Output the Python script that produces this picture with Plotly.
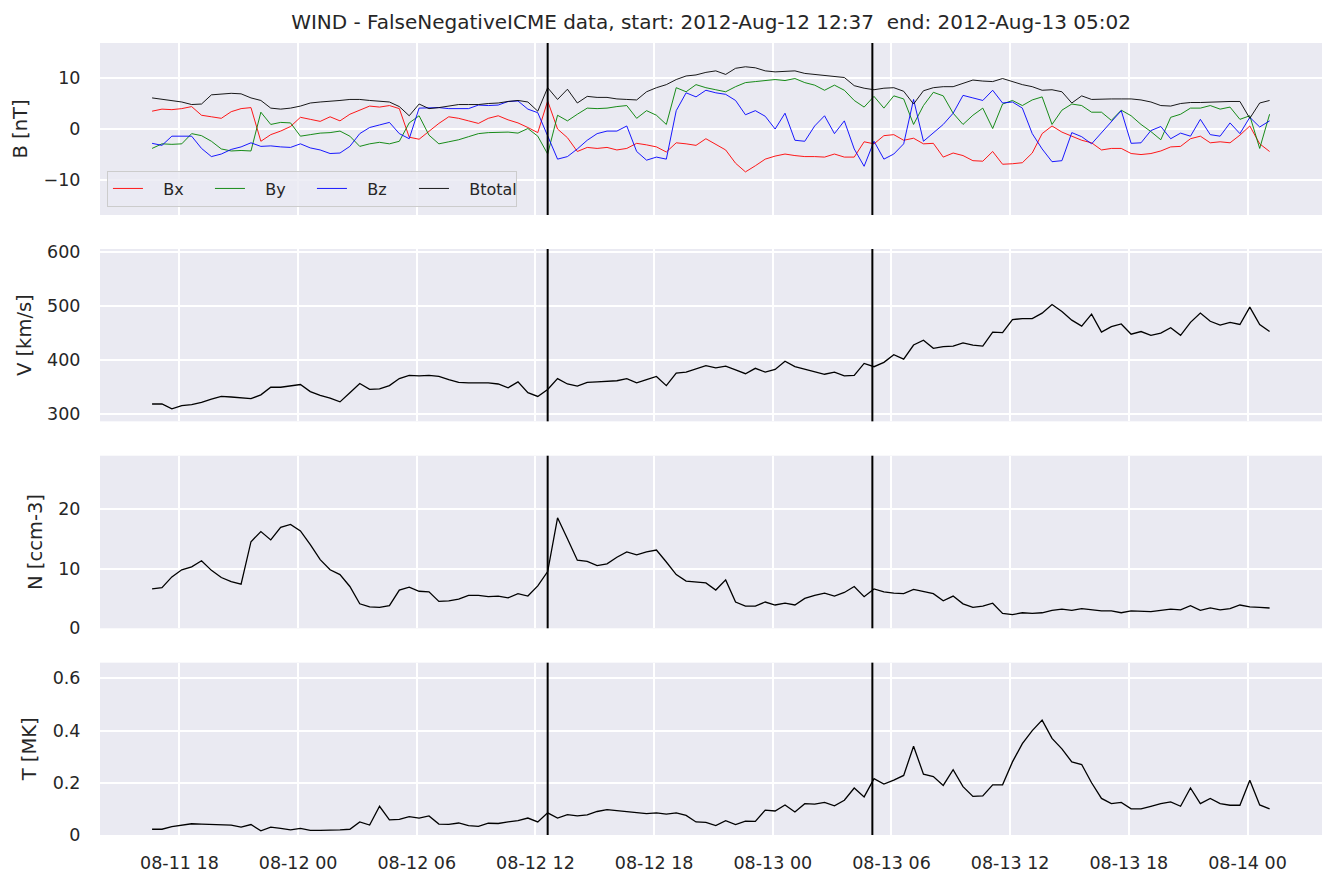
import pandas as pd
import plotly.graph_objects as go
from plotly.subplots import make_subplots

TITLE = "WIND - FalseNegativeICME data, start: 2012-Aug-12 12:37  end: 2012-Aug-13 05:02"
T_START = "2012-08-11 16:37"
N_POINTS = 114
ICME_START = "2012-08-12 12:37"
ICME_END = "2012-08-13 05:02"
X_RANGE = ["2012-08-11 13:59", "2012-08-14 03:46"]

time = pd.date_range(T_START, periods=N_POINTS, freq="30min")

bx = [3.4, 3.8, 3.7, 3.9, 4.3, 2.6, 2.3, 2.0, 3.3, 3.9,
      4.1, -2.5, -1.2, -0.5, 0.4, 2.2, 1.8, 1.4, 2.3, 1.5,
      2.8, 3.6, 4.4, 4.2, 4.5, 3.9, -1.7, -2.1, -0.6, 1.0,
      2.3, 2.0, 1.5, 1.0, 2.0, 2.5, 1.7, 1.1, 0.2, -0.8,
      5.4, -0.1, -1.8, -4.5, -3.7, -3.9, -3.7, -4.2, -3.9, -2.9,
      -3.2, -3.6, -4.6, -2.8, -3.0, -3.3, -2.0, -3.1, -4.2, -6.8,
      -8.5, -7.3, -6.0, -5.4, -5.0, -5.3, -5.5, -5.5, -5.6, -5.0,
      -5.6, -5.6, -2.6, -3.0, -1.4, -1.2, -2.3, -1.9, -3.0, -2.9,
      -5.6, -4.8, -5.3, -6.3, -6.4, -4.5, -7.0, -6.9, -6.7, -4.8,
      -1.0, 0.5, -0.7, -1.5, -2.3, -2.8, -4.2, -3.9, -3.9, -4.9,
      -5.1, -4.9, -4.4, -3.6, -3.5, -2.0, -1.5, -2.8, -2.6, -2.8,
      -1.3, 0.5, -3.0, -4.5]

by = [-3.9, -3.0, -3.1, -3.0, -1.0, -1.4, -2.5, -4.0, -4.4, -4.3,
      -4.4, 3.2, 0.8, 1.2, 1.1, -1.5, -1.2, -0.9, -0.8, -0.5,
      -1.5, -3.5, -3.0, -2.7, -3.0, -2.5, 1.1, 2.5, -1.3, -3.0,
      -2.6, -2.2, -1.6, -1.0, -0.8, -0.7, -0.7, -0.9, 0.0, -1.5,
      -5.0, 2.6, 1.5, 2.8, 4.0, 3.9, 4.0, 4.3, 4.5, 2.0,
      3.5, 2.6, 0.8, 8.0, 7.2, 8.6, 8.0, 7.6, 7.2, 8.2,
      9.0, 9.2, 9.4, 9.6, 9.4, 9.8, 9.0, 8.5, 7.5, 8.5,
      7.5, 5.5, 4.2, 6.3, 4.0, 6.4, 5.8, 0.8, 4.5, 7.1,
      6.4, 3.0, 0.8, 2.6, 4.0, 0.0, 4.8, 5.5, 4.5, 5.6,
      6.2, 0.8, 3.6, 4.8, 4.5, 3.2, 3.2, 1.6, 3.6, 2.5,
      0.8, -0.6, -2.2, 2.2, 2.8, 4.0, 4.0, 4.5, 3.8, 4.2,
      1.8, 2.5, -3.9, 2.8]

bz = [-2.9, -3.3, -1.5, -1.5, -1.5, -3.9, -5.5, -5.0, -4.1, -3.6,
      -2.8, -3.5, -3.4, -3.6, -3.7, -3.0, -3.8, -4.2, -4.9, -4.8,
      -3.5, -1.0, 0.2, 0.7, 1.2, -1.0, -2.0, 4.0, 4.0, 4.1,
      3.9, 3.9, 3.9, 4.6, 4.5, 4.6, 5.3, 5.4, 3.8, 3.1,
      -1.5, -6.0, -5.5, -4.0, -2.3, -1.0, -0.5, -0.5, 0.5, -4.5,
      -6.2, -5.6, -6.0, 3.5, 7.0, 6.2, 7.5, 7.0, 6.7, 5.5,
      2.7, 3.5, 2.4, -0.1, 3.0, -2.3, -2.5, 0.5, 2.5, -1.0,
      1.5, -4.0, -7.4, -2.5, -6.0, -5.0, -3.0, 5.7, -2.5, -0.9,
      0.8, 3.0, 6.5, 6.0, 5.5, 7.5, 5.0, 5.2, 4.0, -1.0,
      -4.0, -6.5, -6.3, -0.8, -1.6, -3.0, -0.9, 1.2, 3.5, -2.9,
      -2.8, -0.4, 0.4, -2.0, -0.9, -1.5, 1.8, -1.2, -1.5, 1.1,
      -1.0, 2.2, 0.3, 1.5]

btot = [6.0, 5.7, 5.4, 5.2, 4.7, 4.8, 6.6, 6.7, 6.9, 6.8,
        6.0, 5.5, 4.0, 3.8, 4.0, 4.4, 5.0, 5.2, 5.3, 5.5,
        5.7, 5.7, 5.5, 5.3, 5.2, 4.3, 2.5, 4.8, 3.9, 4.1,
        4.4, 4.7, 4.7, 4.7, 4.9, 5.0, 5.3, 5.5, 5.2, 3.4,
        8.0, 5.7, 7.7, 5.0, 6.3, 6.1, 6.1, 5.8, 5.7, 5.6,
        7.2, 8.0, 8.6, 9.6, 10.3, 10.5, 11.0, 11.3, 10.6, 11.8,
        12.1, 11.9, 11.3, 11.1, 11.2, 11.3, 10.8, 10.6, 10.4, 10.2,
        10.0, 8.4, 7.9, 7.6, 7.9, 8.0, 7.3, 4.8, 7.4, 8.0,
        8.2, 8.2, 8.9, 9.5, 9.3, 9.2, 9.8, 9.2, 8.6, 8.2,
        7.5, 7.6, 7.2, 5.0, 6.4, 5.7, 5.8, 5.8, 5.8, 5.8,
        5.6, 5.2, 4.5, 4.4, 4.9, 5.1, 5.1, 5.2, 5.3, 5.3,
        5.3, 2.0, 5.0, 5.5]

speed = [319, 319, 310, 316, 318, 322, 328, 333, 332, 331,
         329, 336, 350, 350, 352, 355, 342, 335, 330, 323,
         340, 357, 346, 347, 353, 366, 372, 371, 372, 370,
         364, 359, 358, 358, 358, 356, 349, 360, 340, 333,
         346, 366, 356, 352, 359, 360, 361, 362, 366, 358,
         364, 370, 353, 376, 378, 384, 390, 386, 389, 382,
         375, 385, 378, 383, 398, 388, 383, 379, 374, 378,
         371, 372, 394, 388, 396, 410, 402, 428, 437, 422,
         425, 426, 432, 428, 426, 452, 451, 475, 477, 477,
         487, 503, 490, 474, 463, 485, 452, 462, 467, 448,
         453, 446, 450, 460, 446, 470, 487, 472, 465, 470,
         466, 498, 466, 453]

density = [6.6, 6.8, 8.6, 9.8, 10.3, 11.3, 9.7, 8.5, 7.8, 7.4,
           14.5, 16.2, 14.8, 16.9, 17.4, 16.3, 14.0, 11.5, 9.8, 9.0,
           7.0, 4.1, 3.6, 3.5, 3.8, 6.4, 6.9, 6.2, 6.1, 4.5,
           4.6, 4.9, 5.5, 5.5, 5.3, 5.4, 5.1, 5.8, 5.4, 7.1,
           9.5, 18.5, 15.0, 11.4, 11.2, 10.5, 10.8, 11.9, 12.8, 12.3,
           12.8, 13.1, 11.1, 9.0, 7.9, 7.8, 7.6, 6.4, 8.1, 4.4,
           3.7, 3.7, 4.4, 3.9, 4.2, 3.9, 5.0, 5.5, 5.9, 5.4,
           6.0, 7.0, 5.3, 6.6, 6.1, 5.9, 5.8, 6.5, 6.2, 5.8,
           4.6, 5.4, 4.1, 3.5, 3.7, 4.2, 2.5, 2.3, 2.6, 2.5,
           2.6, 3.0, 3.2, 3.0, 3.3, 3.1, 2.9, 2.9, 2.6, 2.9,
           2.8, 2.8, 3.0, 3.2, 3.1, 3.8, 3.0, 3.4, 3.1, 3.3,
           3.9, 3.6, 3.5, 3.4]

temperature = [0.022, 0.022, 0.032, 0.038, 0.043, 0.042, 0.040, 0.038, 0.038, 0.030,
               0.040, 0.016, 0.030, 0.025, 0.020, 0.025, 0.018, 0.018, 0.018, 0.020,
               0.022, 0.050, 0.038, 0.110, 0.058, 0.060, 0.070, 0.065, 0.073, 0.042,
               0.041, 0.046, 0.036, 0.033, 0.045, 0.044, 0.050, 0.055, 0.065, 0.050,
               0.085, 0.065, 0.078, 0.073, 0.077, 0.090, 0.097, 0.093, 0.090, 0.085,
               0.082, 0.085, 0.080, 0.085, 0.075, 0.050, 0.048, 0.036, 0.055, 0.040,
               0.053, 0.052, 0.095, 0.092, 0.115, 0.088, 0.120, 0.118, 0.125, 0.112,
               0.133, 0.180, 0.146, 0.216, 0.195, 0.210, 0.228, 0.340, 0.233, 0.224,
               0.190, 0.250, 0.185, 0.148, 0.150, 0.192, 0.192, 0.280, 0.350, 0.400,
               0.440, 0.370, 0.330, 0.280, 0.270, 0.200, 0.140, 0.120, 0.125, 0.100,
               0.100, 0.110, 0.120, 0.127, 0.110, 0.180, 0.120, 0.140, 0.120, 0.114,
               0.114, 0.210, 0.115, 0.100]

B_COMPONENTS = [("Bx", bx, "red"), ("By", by, "green"), ("Bz", bz, "blue"), ("Btotal", btot, "black")]
Y_LABELS = ["B [nT]", "V [km/s]", "N [ccm-3]", "T [MK]"]
Y_RANGES = [[-16.95, 16.76], [287, 605.5], [0, 28.9], [0, 0.66]]
Y_DTICKS = [10, 100, 10, 0.2]
DOMAINS = [[0.7828, 1.0], [0.5223, 0.7399], [0.2610, 0.4789], [0.0, 0.2176]]

FONT = "DejaVu Sans"
TXT = "#262626"
BG = "#EAEAF2"
PAD = "\u00a0\u00a0\u00a0"

fig = make_subplots(rows=4, cols=1, shared_xaxes=True, vertical_spacing=0.04)

for name, vals, col in B_COMPONENTS:
    fig.add_trace(go.Scatter(x=time, y=vals, mode="lines", name=PAD + name,
                             line=dict(color=col, width=0.9)), row=1, col=1)
for r, vals in [(2, speed), (3, density), (4, temperature)]:
    fig.add_trace(go.Scatter(x=time, y=vals, mode="lines", showlegend=False,
                             line=dict(color="black", width=1.3)), row=r, col=1)

for i in range(4):
    sfx = "" if i == 0 else str(i + 1)
    fig.layout["yaxis" + sfx].update(
        domain=DOMAINS[i], range=Y_RANGES[i], dtick=Y_DTICKS[i],
        showgrid=True, gridcolor="white", gridwidth=1.6, zeroline=False, showline=False,
        ticks="outside", ticklen=15, tickcolor="rgba(0,0,0,0)",
        tickfont=dict(family=FONT, size=17.5, color=TXT),
        title=dict(text=Y_LABELS[i], font=dict(family=FONT, size=19.5, color=TXT), standoff=10),
    )
    fig.layout["xaxis" + sfx].update(
        range=X_RANGE, type="date", dtick=6 * 3600 * 1000, tick0="2012-08-11 18:00",
        tickformat="%m-%d %H", showgrid=True, gridcolor="white", gridwidth=1.6,
        zeroline=False, showline=False, showticklabels=(i == 3),
        ticks="outside", ticklen=12, tickcolor="rgba(0,0,0,0)",
        tickfont=dict(family=FONT, size=17.5, color=TXT),
    )
    for xv in (ICME_START, ICME_END):
        fig.add_shape(type="line", xref="x" + sfx, yref="y" + sfx + " domain",
                      x0=xv, x1=xv, y0=0, y1=1, line=dict(color="black", width=2), layer="above")

fig.update_layout(
    width=1336, height=886,
    margin=dict(l=100, r=14, t=43, b=51),
    paper_bgcolor="white", plot_bgcolor=BG,
    font=dict(family=FONT, color=TXT),
    title=dict(text=TITLE, x=0.5, xref="paper", xanchor="center",
               y=1 - 22 / 886, yref="container", yanchor="middle",
               font=dict(family=FONT, size=20, color=TXT)),
    legend=dict(orientation="h", x=0.0057, xanchor="left", y=0.7935, yanchor="bottom",
                bgcolor="rgba(234,234,242,0.8)", bordercolor="#cccccc", borderwidth=1,
                font=dict(family=FONT, size=16, color=TXT),
                entrywidth=57, entrywidthmode="pixels"),
    showlegend=True,
)

fig.write_html("out.html")
